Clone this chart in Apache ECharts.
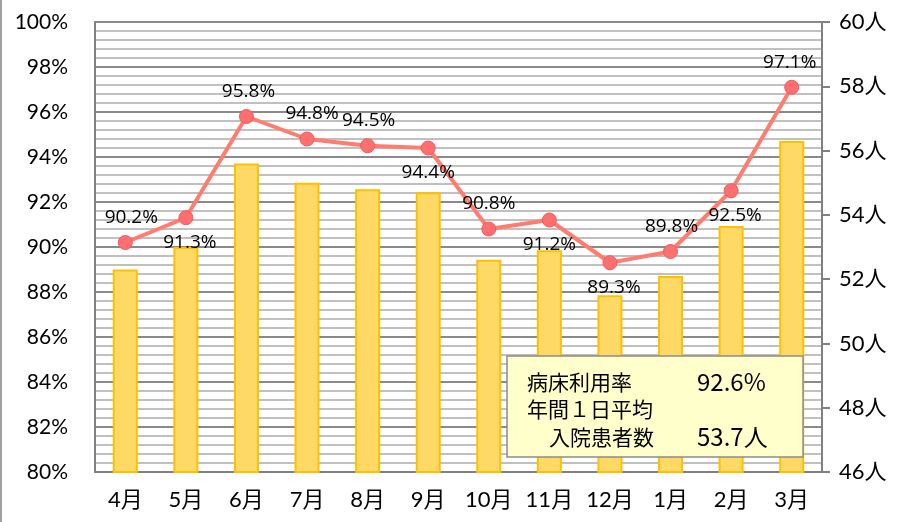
<!DOCTYPE html>
<html>
<head>
<meta charset="utf-8">
<script src="https://cdn.jsdelivr.net/npm/echarts@6/dist/echarts.min.js"></script>
<style>
  html, body { margin: 0; padding: 0; background: #fff; }
  #main { width: 903px; height: 522px; }
</style>
</head>
<body>
<div id="main"></div>
<script>
const months = ["4月", "5月", "6月", "7月", "8月", "9月", "10月", "11月", "12月", "1月", "2月", "3月"];
// 入院患者数 (人) - right axis
const patients = [52.3, 53.0, 55.6, 55.0, 54.8, 54.7, 52.6, 52.9, 51.5, 52.1, 53.65, 56.3];
// 病床利用率 (%) - left axis
const occupancy = [90.2, 91.3, 95.8, 94.8, 94.5, 94.4, 90.8, 91.2, 89.3, 89.8, 92.5, 97.1];
const labelPos = ["top", "bottom", "top", "top", "top", "bottom", "top", "bottom", "bottom", "top", "bottom", "top"];
const labelShift = [[6, 0], [4, 0], [2, 0], [5, 0], [1, 0], [0, 0], [0, 0], [0, 0], [4, 0], [1, 0], [4, 0], [-2, 0]];
const summaryRate = "92.6%";
const summaryPatients = "53.7人";

const font = "Lato, 'Noto Sans CJK JP', sans-serif";
const jpFont = "'Noto Sans CJK JP', sans-serif";

function initChart() {
  var myChart = echarts.init(document.getElementById("main"), null, { renderer: "canvas" });
  var lineData = occupancy.map(function (v, i) {
    return {
      value: v,
      label: { position: labelPos[i], offset: labelShift[i] }
    };
  });
  const options = {
    animation: false,
    textStyle: { fontFamily: font },
    grid: { left: 95, right: 81, top: 22, bottom: 50 },
    xAxis: {
      type: "category",
      data: months,
      axisLine: { lineStyle: { color: "#808080", width: 2 } },
      axisTick: { show: false },
      axisLabel: { interval: 0, color: "#000", fontSize: 22, margin: 17, fontFamily: font }
    },
    yAxis: [
      {
        type: "value",
        min: 80,
        max: 100,
        interval: 2,
        position: "left",
        axisLine: { show: true, lineStyle: { color: "#808080", width: 2 } },
        axisTick: { show: false },
        axisLabel: { color: "#000", fontSize: 21, margin: 27, formatter: "{value}%", fontFamily: font },
        splitLine: { show: true, lineStyle: { color: "#8a8a8a", width: 2 } },
        minorTick: { show: false, splitNumber: 5 },
        minorSplitLine: { show: true, lineStyle: { color: "#c0c0c0", width: 2 } }
      },
      {
        type: "value",
        min: 46,
        max: 60,
        interval: 2,
        position: "right",
        axisLine: { show: true, lineStyle: { color: "#808080", width: 2 } },
        axisTick: { show: true, length: 8, lineStyle: { color: "#808080", width: 2 } },
        axisLabel: { color: "#000", fontSize: 22, margin: 17, formatter: "{value}人", fontFamily: font },
        splitLine: { show: false }
      }
    ],
    series: [
      {
        name: "入院患者数",
        type: "bar",
        yAxisIndex: 1,
        data: patients,
        barWidth: 25,
        itemStyle: { color: "#FFD966", borderColor: "#FFC000", borderWidth: 2 },
        z: 2
      },
      {
        name: "病床利用率",
        type: "line",
        yAxisIndex: 0,
        data: lineData,
        symbol: "circle",
        symbolSize: 14,
        lineStyle: { color: "#FF7C6E", width: 4 },
        itemStyle: { color: "#FF6F6F", borderColor: "#F05A5A", borderWidth: 1 },
        label: {
          show: true,
          distance: 8,
          color: "#000",
          fontSize: 19,
          fontFamily: "'Open Sans', sans-serif",
          formatter: function (p) { return p.value.toFixed(1) + "%"; }
        },
        z: 5
      }
    ],
    graphic: [
      {
        type: "line",
        shape: { x1: 1, y1: 0, x2: 1, y2: 522 },
        style: { stroke: "#a0a0a0", lineWidth: 2 },
        z: 1
      },
      {
        type: "rect",
        x: 507, y: 356,
        shape: { x: 0, y: 0, width: 296, height: 101 },
        style: { fill: "#FFFFCC", stroke: "#8c8c8c", lineWidth: 1.5 },
        z: 100, zlevel: 1
      },
      { type: "text", x: 527, y: 382, z: 101, zlevel: 1, style: { text: "病床利用率", font: "21px " + jpFont, fill: "#000", verticalAlign: "middle" } },
      { type: "text", x: 697, y: 382, z: 101, zlevel: 1, style: { text: summaryRate, font: "24px " + jpFont, fill: "#000", verticalAlign: "middle" } },
      { type: "text", x: 527, y: 409, z: 101, zlevel: 1, style: { text: "年間１日平均", font: "21px " + jpFont, fill: "#000", verticalAlign: "middle" } },
      { type: "text", x: 549, y: 437, z: 101, zlevel: 1, style: { text: "入院患者数", font: "21px " + jpFont, fill: "#000", verticalAlign: "middle" } },
      { type: "text", x: 697, y: 437, z: 101, zlevel: 1, style: { text: summaryPatients, font: "24px " + jpFont, fill: "#000", verticalAlign: "middle" } }
    ]
  };
  myChart.setOption(options);
  return myChart;
}

var chart = initChart();
window.onresize = function () {
  chart.resize();
};
</script>
</body>
</html>
